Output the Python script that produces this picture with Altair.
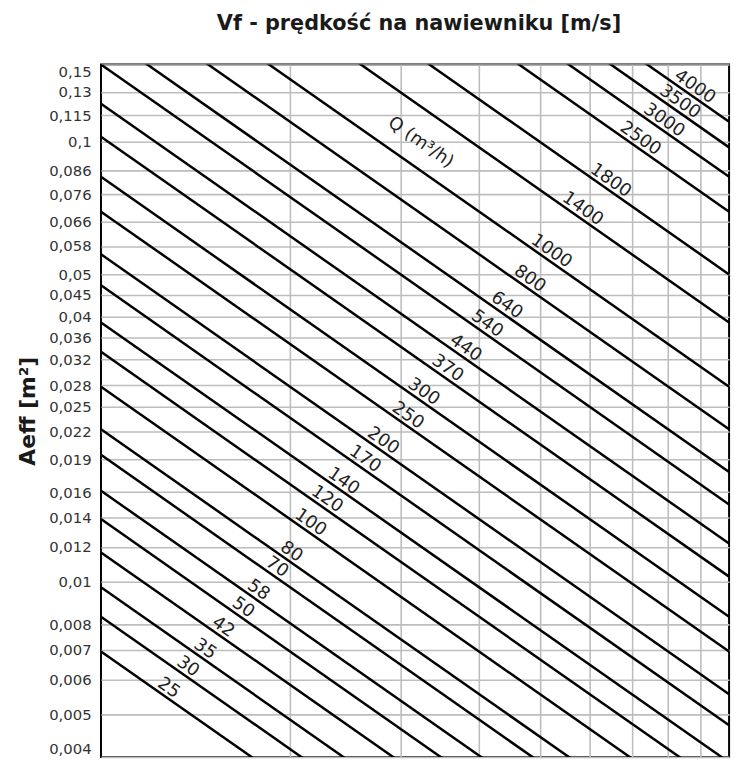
import altair as alt
import pandas as pd

# Air flow values Q (m3/h) of the nomogram lines
flows = [25, 30, 35, 42, 50, 58, 70, 80, 100, 120, 140, 170, 200, 250, 300,
         370, 440, 540, 640, 800, 1000, 1400, 1800, 2500, 3000, 3500, 4000]
# velocity (m/s) at which each line's label sits
label_v = [1.258, 1.350, 1.437, 1.536, 1.652, 1.748, 1.871, 1.973, 2.116, 2.248,
           2.388, 2.583, 2.761, 3.023, 3.203, 3.496, 3.736, 4.042, 4.345, 4.727,
           5.115, 5.736, 6.358, 7.088, 7.731, 8.194, 8.654]
# y-axis tick labels Aeff (m2)
y_ticks = [0.004, 0.005, 0.006, 0.007, 0.008, 0.01, 0.012, 0.014, 0.016, 0.019,
           0.022, 0.025, 0.028, 0.032, 0.036, 0.04, 0.045, 0.05, 0.058, 0.066,
           0.076, 0.086, 0.1, 0.115, 0.13, 0.15]
x_grid = [2, 3, 4, 5, 6, 7, 8, 9]
v_range = [1, 10]
a_range = [0.004, 0.15]
q_title = "Q (m³/h)"
q_title_v = 3.23
q_title_a = 0.0997

# each line: Q = 3600 * Vf * Aeff, drawn between the ends of the velocity range
rows = []
for q in flows:
    for v in v_range:
        rows.append({"q": q, "v": v, "a": q / (3600.0 * v)})
lines_df = pd.DataFrame(rows)

labels_df = pd.DataFrame({
    "q": flows,
    "v": label_v,
    "a": [q / (3600.0 * v) for q, v in zip(flows, label_v)],
    "t": [str(q) for q in flows],
})
qt_df = pd.DataFrame({"v": [q_title_v], "a": [q_title_a], "t": [q_title]})

xs = alt.Scale(type="log", domain=v_range, nice=False)
ys = alt.Scale(type="log", domain=a_range, nice=False)

x_enc = alt.X("v:Q", scale=xs, axis=alt.Axis(values=x_grid, labels=False, ticks=False,
                                            domain=False, grid=True, title=None,
                                            gridColor="#bdbdbd", gridWidth=1.6))
y_enc = alt.Y("a:Q", scale=ys, axis=alt.Axis(
    values=y_ticks,
    labelExpr="replace(toString(datum.value), '.', ',')",
    labelFlush=True, ticks=False, domain=False, labelPadding=10,
    labelFont="DejaVu Sans", labelFontSize=15, labelColor="#333333",
    grid=True, gridColor="#bdbdbd", gridWidth=1.6,
    title="Aeff [m²]", titleFont="DejaVu Sans", titleFontSize=22,
    titleFontWeight="bold", titleColor="#1a1a1a", titleAngle=270,
    titleX=-67, titleY=350, titleAlign="center", titleBaseline="alphabetic"))

lines = alt.Chart(lines_df).mark_line(clip=True, color="black", strokeWidth=2.5).encode(
    x=x_enc, y=y_enc, detail="q:N")

labels = alt.Chart(labels_df).mark_text(
    angle=35, align="center", baseline="bottom", font="DejaVu Sans",
    fontSize=18, color="#222222").encode(
    x=alt.X("v:Q", scale=xs), y=alt.Y("a:Q", scale=ys), text="t:N")

qt = alt.Chart(qt_df).mark_text(
    angle=35, align="center", baseline="middle", font="DejaVu Sans",
    fontSize=18, color="#222222").encode(
    x=alt.X("v:Q", scale=xs), y=alt.Y("a:Q", scale=ys), text="t:N")

chart = alt.layer(lines, labels, qt).properties(
    width=635, height=700,
    autosize=alt.AutoSizeParams(type="none"),
    padding={"left": 94, "top": 53, "right": 7, "bottom": 1},
    title=alt.TitleParams(text="Vf - prędkość na nawiewniku [m/s]", font="DejaVu Sans",
                          fontSize=21, fontWeight="bold", color="#1a1a1a",
                          anchor="middle", offset=31, dx=4),
).configure_view(stroke="black", strokeWidth=2)

chart.save("out.html", embed_options={"renderer": "svg", "actions": False})
